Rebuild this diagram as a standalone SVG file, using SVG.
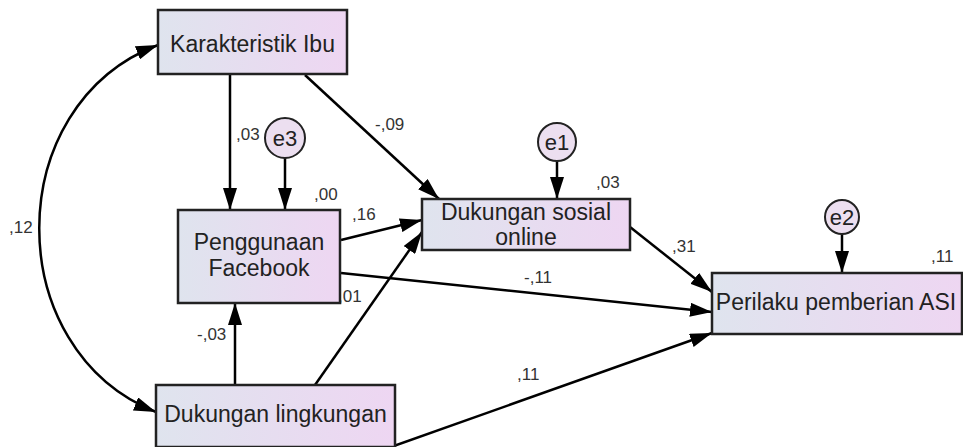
<svg xmlns="http://www.w3.org/2000/svg" width="963" height="447" viewBox="0 0 963 447">
<defs>
<linearGradient id="g" x1="0" y1="0" x2="1" y2="0">
<stop offset="0" stop-color="#dfe4ee"/>
<stop offset="1" stop-color="#eed6f2"/>
</linearGradient>
<marker id="ah2" viewBox="0 0 22 14" refX="22" refY="7" markerWidth="22" markerHeight="14" markerUnits="userSpaceOnUse" orient="auto-start-reverse">
<path d="M0,0 L22,7 L0,14 Z" fill="#000"/>
</marker>
</defs>
<style>
.box{fill:url(#g);stroke:#222;stroke-width:2.5}
.err{fill:#ecdff0;stroke:#222;stroke-width:2}
.t{font-family:"Liberation Sans",Arial,sans-serif;font-size:23px;fill:#222;text-anchor:middle}
.et{font-family:"Liberation Sans",Arial,sans-serif;font-size:22px;fill:#222;text-anchor:middle}
.l{font-family:"Liberation Sans",Arial,sans-serif;font-size:17px;fill:#333}
.c{fill:none;stroke:#000;stroke-width:2.5;marker-end:url(#ah2)}
</style>
<g id="connectors">
<path class="c" d="M158,45 C0,105 0,350 156,412" style="marker-start:url(#ah2)"/>
<line class="c" x1="230" y1="75" x2="230" y2="210"/>
<line class="c" x1="285" y1="158" x2="285" y2="210"/>
<line class="c" x1="305" y1="75" x2="439" y2="199"/>
<line class="c" x1="341" y1="240" x2="422" y2="220"/>
<line class="c" x1="315" y1="385" x2="422" y2="232"/>
<line class="c" x1="341" y1="273" x2="712" y2="312"/>
<line class="c" x1="630" y1="227" x2="712" y2="292"/>
<line class="c" x1="391" y1="447" x2="712" y2="333"/>
<line class="c" x1="235" y1="385" x2="235" y2="303"/>
<line class="c" x1="557" y1="161" x2="557" y2="199"/>
<line class="c" x1="842" y1="234" x2="842" y2="273"/>
</g>
<g id="labels">
<text class="l" x="236" y="140">,03</text>
<text class="l" x="375" y="130">-,09</text>
<text class="l" x="314" y="200">,00</text>
<text class="l" x="352" y="220">,16</text>
<text class="l" x="338" y="302">,01</text>
<text class="l" x="197" y="340">-,03</text>
<text class="l" x="596" y="188">,03</text>
<text class="l" x="672" y="252">,31</text>
<text class="l" x="524" y="283">-,11</text>
<text class="l" x="517" y="380">,11</text>
<text class="l" x="931" y="262">,11</text>
<text class="l" x="9" y="233">,12</text>
</g>
<g id="karakteristik">
<rect class="box" x="158" y="10" width="189" height="64"/>
<text class="t" x="252.5" y="52">Karakteristik Ibu</text>
</g>
<g id="penggunaan">
<rect class="box" x="178" y="210" width="162" height="93"/>
<text class="t" x="259" y="250">Penggunaan</text>
<text class="t" x="259" y="276">Facebook</text>
</g>
<g id="dukungan-sosial">
<rect class="box" x="422" y="199" width="208" height="51"/>
<text class="t" x="526" y="220">Dukungan sosial</text>
<text class="t" x="526" y="245">online</text>
</g>
<g id="perilaku">
<rect class="box" x="712" y="273" width="250" height="61"/>
<text class="t" x="836" y="310">Perilaku pemberian ASI</text>
</g>
<g id="dukungan-lingkungan">
<rect class="box" x="156" y="385" width="239" height="62"/>
<text class="t" x="275.5" y="422">Dukungan lingkungan</text>
</g>
<g id="e3">
<circle class="err" cx="285" cy="138" r="20"/>
<text class="et" x="285" y="146">e3</text>
</g>
<g id="e1">
<circle class="err" cx="557" cy="142" r="19"/>
<text class="et" x="557" y="150">e1</text>
</g>
<g id="e2">
<circle class="err" cx="842" cy="217" r="17"/>
<text class="et" x="842" y="225">e2</text>
</g>
</svg>
